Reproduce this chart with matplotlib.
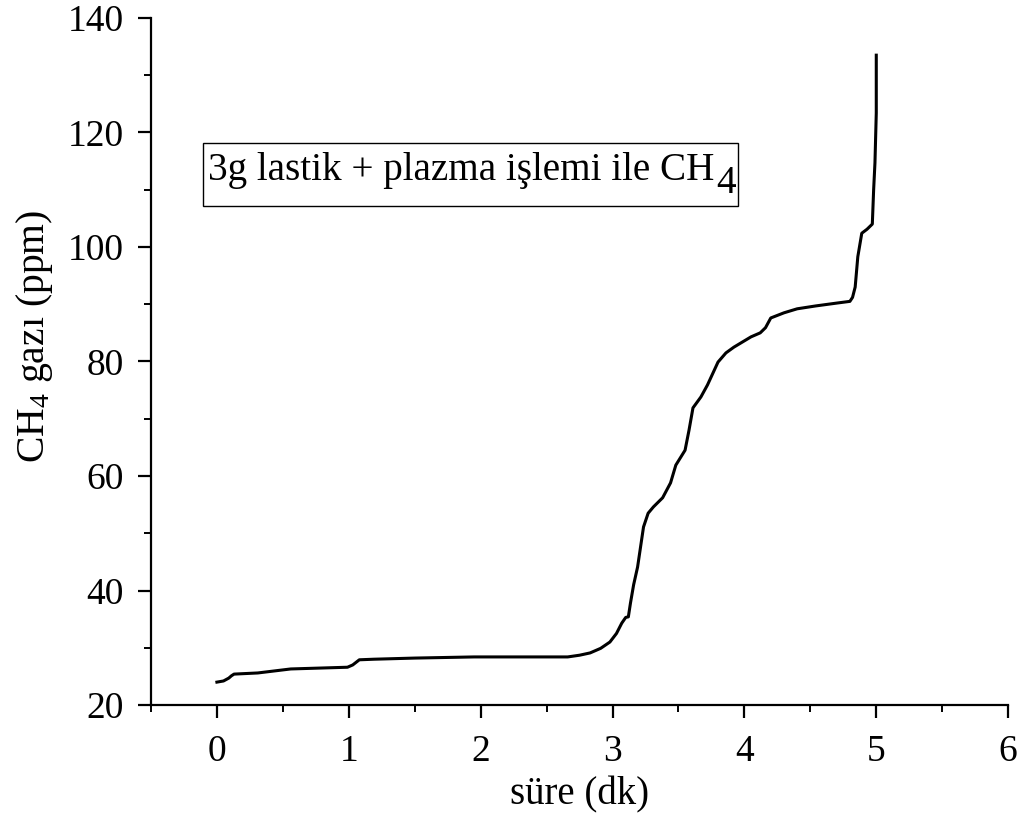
import matplotlib
matplotlib.use("Agg")
import matplotlib.pyplot as plt
from matplotlib.ticker import MultipleLocator
from matplotlib.patches import Rectangle
from matplotlib.transforms import IdentityTransform

plt.rcParams["font.family"] = ["Liberation Serif", "DejaVu Serif"]
plt.rcParams["mathtext.fontset"] = "custom"
plt.rcParams["mathtext.rm"] = "Liberation Serif"
plt.rcParams["mathtext.it"] = "Liberation Serif:italic"

# CH4 concentration over time (minutes, ppm)
time_min = [0.00, 0.05, 0.09, 0.11, 0.13, 0.31, 0.56, 0.99, 1.03, 1.08, 1.19,
            1.50, 1.95, 2.30, 2.66, 2.75, 2.83, 2.91, 2.98, 3.03, 3.07, 3.10,
            3.12, 3.136, 3.16, 3.19, 3.235, 3.27, 3.31, 3.38, 3.44, 3.48, 3.55,
            3.58, 3.61, 3.67, 3.72, 3.80, 3.86, 3.92, 4.05, 4.12, 4.16, 4.20,
            4.30, 4.40, 4.54, 4.70, 4.80, 4.82, 4.84, 4.86, 4.89, 4.93, 4.97,
            4.98, 4.99, 5.00, 5.00]
ch4_ppm = [24.0, 24.2, 24.7, 25.1, 25.4, 25.6, 26.3, 26.6, 27.0, 27.9, 28.0,
           28.2, 28.4, 28.4, 28.4, 28.7, 29.1, 29.9, 31.0, 32.5, 34.3, 35.3,
           35.4, 37.8, 41.0, 44.1, 51.1, 53.5, 54.6, 56.2, 58.8, 61.9, 64.5,
           68.0, 71.9, 73.8, 75.9, 79.9, 81.5, 82.5, 84.3, 85.0, 85.9, 87.6,
           88.5, 89.2, 89.7, 90.2, 90.5, 91.2, 93.0, 98.3, 102.4, 103.1, 104.0,
           110.0, 114.7, 123.4, 133.5]

x_ticks = [0, 1, 2, 3, 4, 5, 6]
y_ticks = [20, 40, 60, 80, 100, 120, 140]

fig = plt.figure(figsize=(10.34, 8.16), dpi=100)
ax = fig.add_axes([0.146, 0.136, 0.829, 0.842])

ax.plot(time_min, ch4_ppm, color="black", linewidth=2.2, solid_joinstyle="round")

ax.set_xlim(-0.5, 6)
ax.set_ylim(20, 140)
ax.set_xticks(x_ticks)
ax.set_yticks(y_ticks)
ax.xaxis.set_minor_locator(MultipleLocator(0.5))
ax.yaxis.set_minor_locator(MultipleLocator(10))

for side in ("top", "right"):
    ax.spines[side].set_visible(False)
for side in ("left", "bottom"):
    ax.spines[side].set_linewidth(1.6)

ax.tick_params(which="major", direction="out", length=9.5, width=1.6,
               labelsize=27)
ax.tick_params(axis="x", which="major", pad=12)
ax.tick_params(axis="y", which="major", pad=10)
ax.tick_params(which="minor", direction="out", length=5, width=1.4)

ax.set_xlabel("süre (dk)", fontsize=28, labelpad=5)
ax.set_ylabel("CH$_4$ gazı (ppm)", fontsize=28.5)
ax.yaxis.set_label_coords(-0.112, 0.536)

# Annotation box with a lowered, full-size "4" after CH
ax.add_patch(Rectangle((0.0607, 0.726), 0.624, 0.092, transform=ax.transAxes,
                       facecolor="white", edgecolor="black", linewidth=1.0,
                       zorder=3))
baseline = 0.7642
label = ax.text(0.0665, baseline, "3g lastik + plazma işlemi ile CH",
                transform=ax.transAxes, fontsize=28.2, ha="left",
                va="baseline", zorder=4)
fig.canvas.draw()
bb = label.get_window_extent()
y_base = ax.transAxes.transform((0, baseline))[1]
ax.text(bb.x1 + 2, y_base - 13, "4", transform=IdentityTransform(),
        fontsize=28.2, ha="left", va="baseline", zorder=4)

fig.savefig("out.png", dpi=100)
